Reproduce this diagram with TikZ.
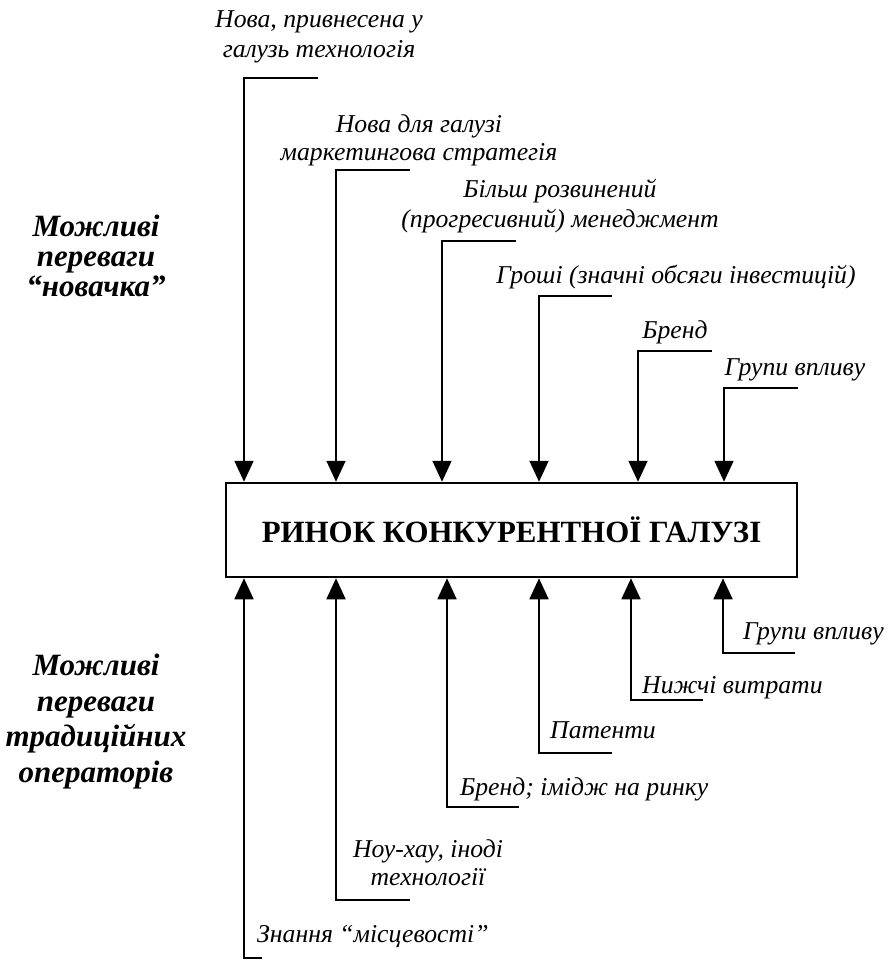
\documentclass[tikz,border=0pt]{standalone}
\usepackage{fontspec}
\setmainfont{Liberation Serif}
\usetikzlibrary{arrows.meta}
\begin{document}
\begin{tikzpicture}[x=1pt,y=-1pt,
  arr/.style={line width=1.8pt,-{Triangle[length=21pt,width=19pt]}},
  lab/.style={font=\fontsize{25.7}{29}\selectfont\itshape, inner sep=0pt, align=center},
  side/.style={font=\fontsize{31}{30}\selectfont\bfseries\itshape, inner sep=0pt, align=center},
  sideb/.style={font=\fontsize{31}{35.5}\selectfont\bfseries\itshape, inner sep=0pt, align=center},
  mainbox/.style={draw, line width=2.5pt, minimum width=571pt, minimum height=94pt, inner sep=0pt, font=\fontsize{30.9}{36}\selectfont\bfseries}
]
\useasboundingbox (0,0) rectangle (890,961);
\node[mainbox] (box) at (511.5,530) {РИНОК КОНКУРЕНТНОЇ ГАЛУЗІ};

% side labels
\node[side, anchor=base] (sTop) at (96,296) {Можливі\\переваги\\“новачка”};
\node[sideb, anchor=base] (sBot) at (96,782) {Можливі\\переваги\\традиційних\\операторів};

% top labels
\node[lab, anchor=base] (t1) at (319,57) {Нова, привнесена у\\[1pt]галузь технологія};
\node[lab, anchor=base] (t2) at (419,160) {Нова для галузі\\[-1pt]маркетингова стратегія};
\node[lab, anchor=base] (t3) at (560,227) {Більш розвинений\\[1pt](прогресивний) менеджмент};
\node[lab, anchor=base] (t4) at (676,283) {Гроші (значні обсяги інвестицій)};
\node[lab, anchor=base] (t5) at (675,338) {Бренд};
\node[lab, anchor=base] (t6) at (795,375) {Групи впливу};

% bottom labels
\node[lab, anchor=base west] (b6) at (743,639) {Групи впливу};
\node[lab, anchor=base west] (b5) at (642,693) {Нижчі витрати};
\node[lab, anchor=base west] (b4) at (550,738) {Патенти};
\node[lab, anchor=base west] (b3) at (460,795) {Бренд; імідж на ринку};
\node[lab, anchor=base] (b2) at (428,885) {Ноу-хау, іноді\\[-1pt]технології};
\node[lab, anchor=base west] (b1) at (257,942) {Знання “місцевості”};

% top connectors
\coordinate (t1e) at (318,78);  \coordinate (t1c) at (244,78);
\coordinate (t2e) at (410,170); \coordinate (t2c) at (336,170);
\coordinate (t3e) at (516,241); \coordinate (t3c) at (442,241);
\coordinate (t4e) at (612,296); \coordinate (t4c) at (539,296);
\coordinate (t5e) at (712,351); \coordinate (t5c) at (638,351);
\coordinate (t6e) at (798,388); \coordinate (t6c) at (724,388);
\foreach \i in {1,...,6}{
  \draw[arr] (t\i e) -- (t\i c) -- (t\i c |- box.north);
}

% bottom connectors
\coordinate (b1e) at (262,958); \coordinate (b1c) at (244,958);
\coordinate (b2e) at (410,900); \coordinate (b2c) at (336,900);
\coordinate (b3e) at (519,807); \coordinate (b3c) at (447,807);
\coordinate (b4e) at (612,753); \coordinate (b4c) at (539,753);
\coordinate (b5e) at (703,700); \coordinate (b5c) at (631,700);
\coordinate (b6e) at (795,653); \coordinate (b6c) at (723,653);
\foreach \i in {1,...,6}{
  \draw[arr] (b\i e) -- (b\i c) -- (b\i c |- box.south);
}
\end{tikzpicture}
\end{document}
